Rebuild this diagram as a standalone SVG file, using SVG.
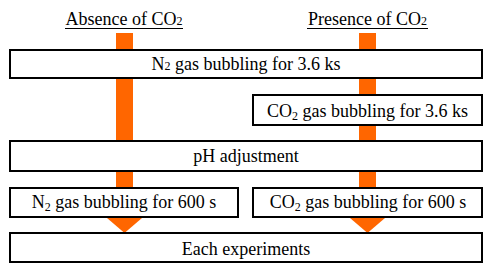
<svg xmlns="http://www.w3.org/2000/svg" width="494" height="269" viewBox="0 0 494 269">
<style>
.box{fill:#fff;stroke:#000;stroke-width:2}
.bar{fill:#FF6600}
text{font-family:'Liberation Serif','Times New Roman','DejaVu Serif',serif;font-size:18px;fill:#000;text-anchor:middle}
.sub{font-size:12px}
</style>
<rect width="494" height="269" fill="#fff"/>
<g id="connectors">
<rect class="bar" x="116" y="33" width="17" height="186"/>
<rect class="bar" x="359" y="33" width="17" height="186"/>
<polygon class="bar" points="107,218 142,218 124.5,233"/>
<polygon class="bar" points="350,218 385,218 367.5,233"/>
</g>
<g font-family="Liberation Serif, Times New Roman, serif">
<g id="header-absence">
<text x="124" y="25">Absence of CO<tspan class="sub">2</tspan></text>
<line x1="65" y1="28.5" x2="183" y2="28.5" stroke="#000" stroke-width="1.2"/>
</g>
<g id="header-presence">
<text x="367.5" y="25">Presence of CO<tspan class="sub">2</tspan></text>
<line x1="307" y1="28.5" x2="428" y2="28.5" stroke="#000" stroke-width="1.2"/>
</g>
<g id="n2-36ks">
<rect class="box" x="10" y="50" width="472" height="28"/>
<text x="246" y="70">N<tspan class="sub">2</tspan> gas bubbling for 3.6 ks</text>
</g>
<g id="co2-36ks">
<rect class="box" x="253" y="95" width="229" height="30"/>
<text x="367.5" y="117">CO<tspan class="sub" dy="3">2</tspan><tspan dy="-3"> gas bubbling for 3.6 ks</tspan></text>
</g>
<g id="ph">
<rect class="box" x="10" y="141" width="472" height="30"/>
<text x="246" y="162">pH adjustment</text>
</g>
<g id="n2-600s">
<rect class="box" x="10" y="188" width="228" height="29"/>
<text x="124" y="208">N<tspan class="sub" dy="3">2</tspan><tspan dy="-3"> gas bubbling for 600 s</tspan></text>
</g>
<g id="co2-600s">
<rect class="box" x="253" y="188" width="229" height="29"/>
<text x="368" y="208">CO<tspan class="sub" dy="3">2</tspan><tspan dy="-3"> gas bubbling for 600 s</tspan></text>
</g>
<g id="each">
<rect class="box" x="10" y="233" width="472" height="29"/>
<text x="246" y="255">Each experiments</text>
</g>
</g>
</svg>
